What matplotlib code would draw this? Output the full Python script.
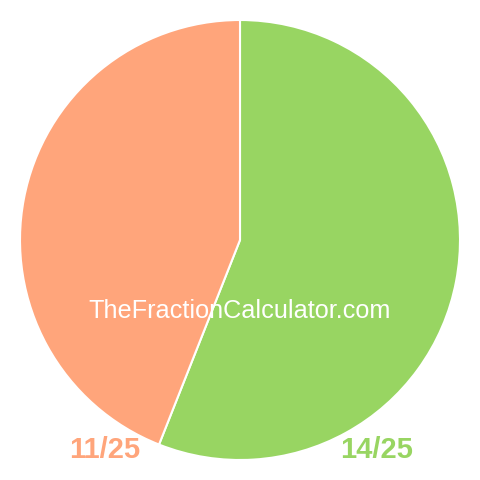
import matplotlib
matplotlib.use('Agg')
import matplotlib.pyplot as plt

### Data
labels = ['14/25', '11/25']
values = [14, 11]
colors = ['#98d562', '#ffa57b']

plt.rcParams['font.family'] = ['Liberation Sans', 'DejaVu Sans']

fig = plt.figure(figsize=(4.8, 4.8), dpi=100)
ax = fig.add_axes([0, 0, 1, 1])

### Pie, starting at top going clockwise (pixel units, y up)
ax.pie(values, colors=colors, startangle=90, counterclock=False,
       radius=220, center=(240, 240), frame=True,
       wedgeprops=dict(edgecolor='white', linewidth=1.5))
ax.set_xlim(0, 480)
ax.set_ylim(0, 480)
ax.set_aspect('equal')
ax.axis('off')

ax.text(240, 480 - 311, 'TheFractionCalculator.com', color='white',
        fontsize=18.2, ha='center', va='center')

ax.text(105, 480 - 450, labels[1], color=colors[1], fontsize=21,
        fontweight='bold', ha='center', va='center')
ax.text(377, 480 - 450, labels[0], color=colors[0], fontsize=21,
        fontweight='bold', ha='center', va='center')

plt.savefig('out.png', dpi=100)
